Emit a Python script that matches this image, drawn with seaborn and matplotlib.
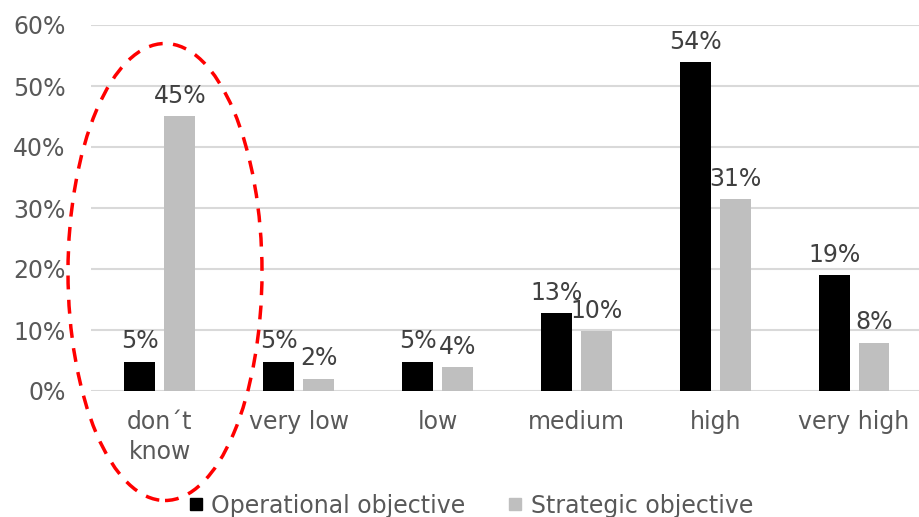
import matplotlib
matplotlib.use("Agg")
import matplotlib.pyplot as plt
import seaborn as sns
import pandas as pd
from matplotlib.patches import Ellipse
from matplotlib.lines import Line2D

categories = ["don´t\nknow", "very low", "low", "medium", "high", "very high"]
operational = [4.8, 4.8, 4.8, 12.8, 53.9, 19.0]
strategic = [45.1, 2.0, 3.9, 9.8, 31.4, 7.9]
series_names = ["Operational objective", "Strategic objective"]
y_ticks = [0, 10, 20, 30, 40, 50, 60]

df = pd.DataFrame({
    "category": categories * 2,
    "value": operational + strategic,
    "series": [series_names[0]] * len(categories) + [series_names[1]] * len(categories),
})

sns.set_theme(style="white")
plt.rcParams["font.family"] = ["DejaVu Sans"]

colors = {series_names[0]: "#000000", series_names[1]: "#BFBFBF"}
fig = plt.figure(figsize=(9.19, 5.17), dpi=100)
ax = fig.add_axes([90.5 / 919, 1 - 391 / 517, (919 - 90.5) / 919, (391 - 25) / 517])

sns.barplot(data=df, x="category", y="value", hue="series", palette=colors,
            width=0.575, gap=0.225, ax=ax, legend=False, saturation=1, linewidth=0)

ax.set_ylim(0, 60)
ax.set_xlim(-0.5, 5.468)
ax.set_yticks(y_ticks)
ax.set_yticklabels([f"{t}%" for t in y_ticks])
ax.set_xlabel("")
ax.set_ylabel("")
for s in ax.spines.values():
    s.set_visible(False)
ax.yaxis.grid(True, color="#D9D9D9", linewidth=1.5)
ax.set_axisbelow(True)
ax.tick_params(axis="both", colors="#595959", labelsize=17, length=0)
ax.tick_params(axis="y", pad=18)
ax.tick_params(axis="x", pad=14)
for t in ax.get_xticklabels():
    t.set_linespacing(1.3)

for cont in ax.containers:
    labels = [f"{round(b.get_height())}%" for b in cont]
    ax.bar_label(cont, labels=labels, padding=6, fontsize=17, color="#404040")

ell = Ellipse((165 / 919, 1 - 272 / 517), 194 / 919, 457 / 517,
              transform=fig.transFigure, fill=False, edgecolor="#FF0000",
              linestyle=(0, (4, 3)), linewidth=2.5, clip_on=False)
fig.patches.append(ell)

handles = [Line2D([], [], marker="s", linestyle="none", markersize=9,
                  markerfacecolor=colors[n], markeredgecolor=colors[n]) for n in series_names]
leg = fig.legend(handles, series_names, loc="center", bbox_to_anchor=(0.51, 0.022),
                 ncol=2, frameon=False, fontsize=17, handletextpad=0.15,
                 columnspacing=1.6, labelcolor="#595959", handlelength=1.0)

fig.savefig("out.png", dpi=100)
